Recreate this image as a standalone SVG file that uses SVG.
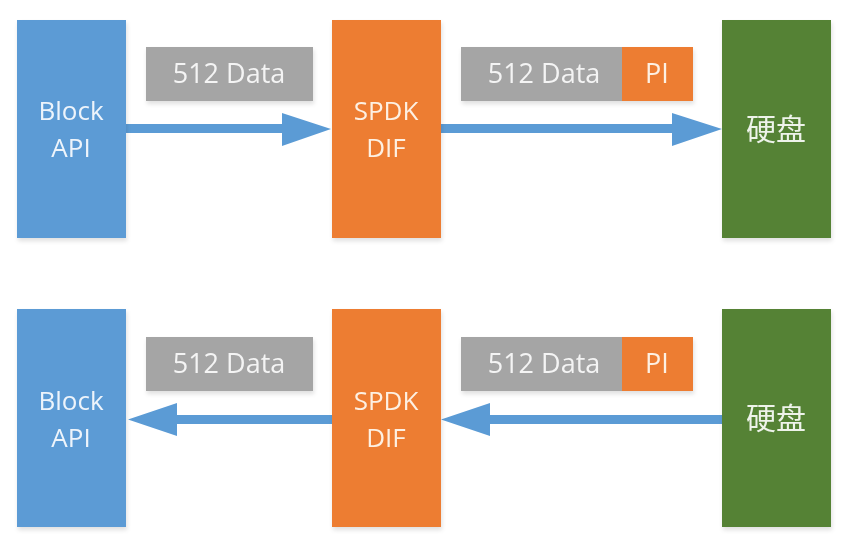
<svg xmlns="http://www.w3.org/2000/svg" width="863" height="551" viewBox="0 0 863 551">
<defs>
<style>
.blue{fill:#5b9bd5}
.orange{fill:#ed7d31}
.green{fill:#548235}
.gray{fill:#a5a5a5}
.t{font-family:"Open Sans","Noto Sans CJK SC",sans-serif;font-size:26px;text-anchor:middle}
.tb{fill:#eef4fb}
.to{fill:#fdf0e3}
.tg{fill:#f4f4f4;font-size:27px}
.tz{fill:#eef3ea;font-size:30px}
.arr{fill:#5b9bd5}
</style>
<filter id="sh" x="-10%" y="-10%" width="130%" height="130%">
<feDropShadow dx="1" dy="3" stdDeviation="2" flood-color="#000" flood-opacity="0.12"/>
</filter>
</defs>
<rect width="863" height="551" fill="#ffffff"/>
<g id="connectors">
<path class="arr" d="M126 124 H282 V113 L331 129 L282 146 V133 H126 Z"/>
<path class="arr" d="M441 124 H672 V113 L722 129 L672 146 V133 H441 Z"/>
<path class="arr" d="M333 415 H177 V403 L128 419.5 L177 436 V424 H333 Z"/>
<path class="arr" d="M722 415 H490 V403 L441 419.5 L490 436 V424 H722 Z"/>
</g>
<g id="block-api-top" filter="url(#sh)"><rect class="blue" x="17" y="20" width="109" height="218"/><text class="t tb" x="71" y="120">Block</text><text class="t tb" x="71" y="157">API</text></g>
<g id="spdk-dif-top" filter="url(#sh)"><rect class="orange" x="332" y="20" width="109" height="218"/><text class="t to" x="386" y="120">SPDK</text><text class="t to" x="386" y="157">DIF</text></g>
<g id="disk-top" filter="url(#sh)"><rect class="green" x="722" y="20" width="109" height="218"/><text class="t tz" x="776" y="140">硬盘</text></g>
<g id="data-top-left" filter="url(#sh)"><rect class="gray" x="146" y="47" width="167" height="54"/><text class="t tg" x="229" y="83">512 Data</text></g>
<g id="data-top-right" filter="url(#sh)"><rect class="gray" x="461" y="47" width="161" height="54"/><text class="t tg" x="544" y="83">512 Data</text><rect class="orange" x="622" y="47" width="71" height="54"/><text class="t to" x="657" y="83" style="font-size:27px">PI</text></g>
<g id="block-api-bottom" filter="url(#sh)"><rect class="blue" x="17" y="309" width="109" height="218"/><text class="t tb" x="71" y="410">Block</text><text class="t tb" x="71" y="447">API</text></g>
<g id="spdk-dif-bottom" filter="url(#sh)"><rect class="orange" x="332" y="309" width="109" height="218"/><text class="t to" x="386" y="410">SPDK</text><text class="t to" x="386" y="447">DIF</text></g>
<g id="disk-bottom" filter="url(#sh)"><rect class="green" x="722" y="309" width="109" height="218"/><text class="t tz" x="776" y="429">硬盘</text></g>
<g id="data-bottom-left" filter="url(#sh)"><rect class="gray" x="146" y="337" width="167" height="54"/><text class="t tg" x="229" y="373">512 Data</text></g>
<g id="data-bottom-right" filter="url(#sh)"><rect class="gray" x="461" y="337" width="161" height="54"/><text class="t tg" x="544" y="373">512 Data</text><rect class="orange" x="622" y="337" width="71" height="54"/><text class="t to" x="657" y="373" style="font-size:27px">PI</text></g>
</svg>
